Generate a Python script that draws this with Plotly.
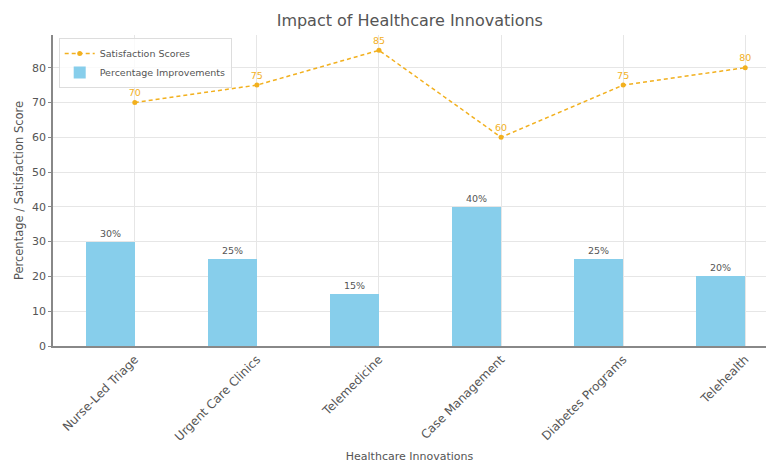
import plotly.graph_objects as go

categories = ["Nurse-Led Triage", "Urgent Care Clinics", "Telemedicine",
              "Case Management", "Diabetes Programs", "Telehealth"]
improvements = [30, 25, 15, 40, 25, 20]
satisfaction = [70, 75, 85, 60, 75, 80]
yticks = [0, 10, 20, 30, 40, 50, 60, 70, 80]

idx = list(range(len(categories)))
bar_x = [i - 0.2 for i in idx]

fig = go.Figure()
fig.add_trace(go.Bar(
    x=bar_x, y=improvements, width=0.4,
    marker=dict(color="#87CEEB", line=dict(width=0)),
    name="Percentage Improvements",
    text=[f"{v}%" for v in improvements], textposition="outside",
    textfont=dict(size=9.5, color="#555555"), cliponaxis=False,
))
fig.add_trace(go.Scatter(
    x=idx, y=satisfaction, mode="lines+markers+text",
    line=dict(color="#F2B01E", dash="4px,3px", width=1.5),
    marker=dict(color="#F2B01E", size=5),
    name="Satisfaction Scores",
    text=[str(v) for v in satisfaction], textposition="top center",
    textfont=dict(size=9.5, color="#F2B01E"), cliponaxis=False,
))

fig.update_layout(
    width=766, height=463,
    margin=dict(l=53, r=0, t=35, b=117),
    paper_bgcolor="white", plot_bgcolor="white",
    font=dict(family="DejaVu Sans", color="#555555", size=10),
    title=dict(text="Impact of Healthcare Innovations", x=0.535, xanchor="center",
               y=0.955, yanchor="middle", font=dict(size=16, color="#555555")),
    showlegend=True,
    legend=dict(x=0.008, y=0.99, xanchor="left", yanchor="top",
                bgcolor="rgba(255,255,255,0.8)", bordercolor="#dddddd", borderwidth=1,
                font=dict(size=9.5, color="#555555"), traceorder="reversed",
                itemwidth=30, tracegroupgap=0),
    bargap=0,
)
fig.update_xaxes(
    range=[-0.67, 5.17], tickmode="array", tickvals=idx, ticktext=categories,
    tickangle=-45, showgrid=True, gridcolor="#e6e6e6", gridwidth=1,
    showline=True, linecolor="#888888", linewidth=1.5, zeroline=False,
    ticks="", tickfont=dict(size=12, color="#555555"),
    title=dict(text="Healthcare Innovations", font=dict(size=11, color="#555555"), standoff=10),
)
fig.update_yaxes(
    range=[0, 89.4], tickmode="array", tickvals=yticks,
    showgrid=True, gridcolor="#e6e6e6", gridwidth=1,
    showline=True, linecolor="#888888", linewidth=1.5, zeroline=False,
    ticks="outside", ticklen=3, tickcolor="#888888",
    tickfont=dict(size=11, color="#555555"),
    title=dict(text="Percentage / Satisfaction Score", font=dict(size=11.5, color="#555555"), standoff=6),
)

fig.write_html("out.html")
